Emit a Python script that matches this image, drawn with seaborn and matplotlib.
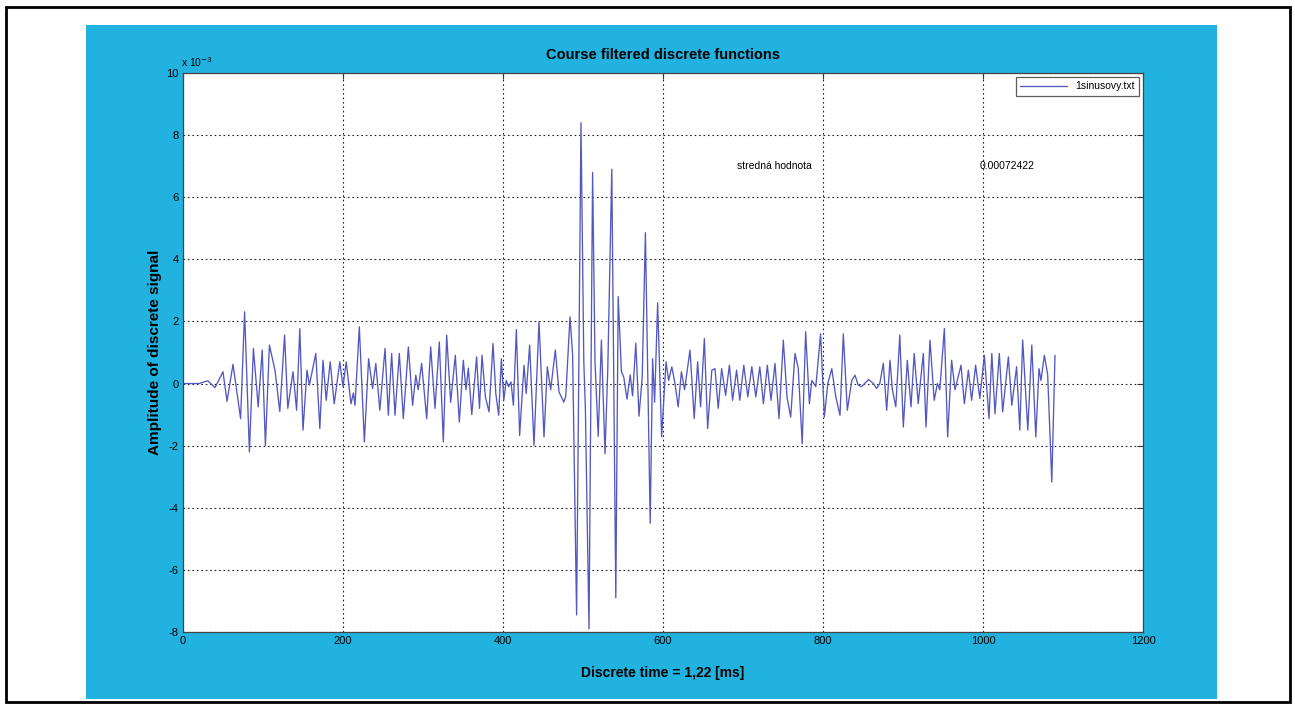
import numpy as np
import pandas as pd
import matplotlib
matplotlib.use("Agg")
import matplotlib.pyplot as plt
import seaborn as sns
from matplotlib.patches import Rectangle

# Sample index of each turning point and amplitude (units of 1e-3)
t_pts = [0, 20, 31, 40, 50, 55, 62.5, 67, 72, 77, 83, 88, 94, 99, 103, 108, 115, 121, 127, 131,
         137.5, 142, 146, 150, 155, 158, 166, 171, 175, 179, 184, 189, 196, 200, 204, 210, 213, 215,
         220.4, 226.7, 232, 237, 241, 246, 252.5, 256.7, 260.8, 265, 270.4, 275.4, 281.7, 287, 291,
         294, 298.3, 304.6, 309.6, 315, 320.4, 325.4, 329.6, 334.6, 340.4, 345.4, 350.4, 353.75,
         356.7, 361, 367, 370.6, 373.75, 378, 382.5, 387.5, 391, 394.6, 398, 401, 404, 407, 410,
         413, 416.7, 420.8, 426.25, 429, 433.3, 438.75, 445, 451.25, 455.4, 459.6, 465.4, 470,
         476, 478.5, 483.75, 487, 492, 497.5, 501, 503, 507.5, 512, 515, 519, 523, 527.5, 531,
         536, 541, 544, 548, 551, 555, 559, 562, 566, 570, 574, 578, 584, 587, 589.5, 593.3, 598.3,
         603.75, 607, 611, 615, 619, 623, 627, 633.75, 639, 643.3, 647, 651.7, 655.8, 661, 665,
         669, 673.3, 678.3, 683, 687, 692, 696, 701, 706, 711, 716, 721, 725.5, 730.4, 735, 740,
         745, 750.4, 755, 759.6, 765, 769, 774, 778.3, 783, 786, 791, 797, 801.7, 806, 811, 816,
         821.25, 825.4, 830.4, 836, 840, 844, 848, 857, 863, 867, 871, 875.4, 879.6, 883.75, 886.7,
         891, 896, 900.4, 905.4, 910, 914, 919, 925.4, 928.75, 933.75, 939, 943, 946, 951.7,
         955.8, 960.8, 965, 972.5, 976.7, 981.7, 985.8, 990.8, 996, 1001.7, 1007.5, 1011, 1015,
         1020.4, 1024.6, 1031.7, 1036, 1042, 1046, 1049.6, 1056, 1061, 1066, 1070, 1072.5, 1076.7,
         1080.8, 1086, 1090]
amp_pts = [0.0, 0.0, 0.09, -0.13, 0.38, -0.57, 0.62, -0.2, -1.13, 2.31, -2.2, 1.13, -0.75, 1.08, -2.0,
           1.24, 0.43, -0.9, 1.56, -0.8, 0.38, -0.86, 1.77, -1.5, 0.43, -0.05, 0.97, -1.45, 0.75, -0.54,
           0.7, -0.65, 0.7, -0.1, 0.7, -0.65, -0.3, -0.7, 1.83, -1.88, 0.8, -0.16, 0.65, -0.86, 1.13,
           -1.02, 0.97, -1.02, 0.97, -1.13, 1.18, -0.7, 0.27, -0.2, 0.65, -1.13, 1.18, -0.8, 1.34,
           -1.88, 1.56, -0.6, 0.91, -1.24, 0.75, -0.2, 0.5, -1.0, 0.86, -0.8, 0.91, -0.43, -0.91,
           1.29, -0.32, -1.02, 0.8, -0.54, 0.1, -0.1, 0.05, -0.7, 1.74, -1.67, 0.59, -0.32, 1.24,
           -1.99, 1.99, -1.72, 0.54, -0.2, 1.08, -0.27, -0.6, -0.4, 2.15, 0.94, -7.45, 8.4, 0.7, -0.83,
           -7.9, 6.8, 0.7, -1.7, 1.4, -2.26, 0.5, 6.9, -6.9, 2.8, 0.39, 0.2, -0.5, 0.28, -0.4, 1.3,
           -1.05, 0.2, 4.86, -4.5, 0.8, -0.6, 2.6, -1.72, 0.7, 0.1, 0.54, 0.0, -0.75, 0.38, -0.2, 1.08,
           -1.13, 0.7, -0.75, 1.45, -1.45, 0.43, 0.48, -0.8, 0.48, -0.38, 0.59, -0.54, 0.43, -0.54,
           0.59, -0.43, 0.54, -0.43, 0.54, -0.65, 0.59, -0.54, 0.65, -1.13, 1.4, -0.43, -1.08, 0.97,
           0.5, -1.94, 1.67, -0.65, 0.1, -0.1, 1.6, -1.08, 0.0, 0.48, -0.43, -1.02, 1.6, -0.86, 0.1,
           0.27, -0.05, -0.1, 0.13, 0.0, -0.16, 0.0, 0.65, -0.86, 0.75, -0.2, -0.75, 1.56, -1.4, 0.75,
           -0.75, 0.97, -0.65, 0.97, -1.4, 1.4, -0.54, 0.0, -0.2, 1.77, -1.72, 0.75, -0.2, 0.59, -0.65,
           0.43, -0.54, 0.59, -0.48, 0.91, -1.13, 0.97, -0.97, 0.97, -0.91, 0.86, -0.7, 0.54, -1.5,
           1.4, -1.5, 1.24, -1.72, 0.48, 0.1, 0.91, 0.3, -3.17, 0.91]

x_ticks = [0, 200, 400, 600, 800, 1000, 1200]
y_ticks = [-8, -6, -4, -2, 0, 2, 4, 6, 8, 10]
series_name = "1sinusovy.txt"
mean_label = "stredná hodnota"
mean_value = "0.00072422"

df = pd.DataFrame({"t": t_pts, "amp": np.array(amp_pts) * 1e-3})

sns.set_style("white")
plt.rcParams["font.family"] = ["Liberation Sans", "DejaVu Sans"]
plt.rcParams["text.color"] = "black"
plt.rcParams["axes.labelcolor"] = "black"
plt.rcParams["xtick.color"] = "black"
plt.rcParams["ytick.color"] = "black"

fig = plt.figure(figsize=(12.95, 7.09), dpi=100)
W, H = 1295, 709
cyan = "#22B2E0"
fig.patches.append(Rectangle((86 / W, 1 - 699 / H), (1217 - 86) / W, (699 - 25) / H,
                             transform=fig.transFigure, facecolor=cyan, edgecolor="none", zorder=-10))
fig.patches.append(Rectangle((6 / W, 1 - 702 / H), (1290 - 6) / W, (702 - 7) / H,
                             transform=fig.transFigure, facecolor="none", edgecolor="black",
                             linewidth=2, zorder=10))

ax = fig.add_axes([183 / W, 1 - 632 / H, 960 / W, 559 / H])
ax.set_facecolor("white")
sns.lineplot(data=df, x="t", y="amp", ax=ax, sort=False, estimator=None,
             color="#5258C0", linewidth=0.95, label=series_name)

ax.set_xlim(0, 1200)
ax.set_ylim(-8e-3, 10e-3)
ax.set_xticks(x_ticks)
ax.set_xticklabels([str(v) for v in x_ticks], fontsize=8)
ax.set_yticks([v * 1e-3 for v in y_ticks])
ax.set_yticklabels([str(v) for v in y_ticks], fontsize=8)
ax.tick_params(direction="in", length=4, width=0.8, top=True, right=True, color="#333333", pad=3)
ax.grid(True, linestyle=(0, (1.5, 2.5)), color="#222222", linewidth=0.8)
for s in ax.spines.values():
    s.set_color("#444444")
    s.set_linewidth(0.9)

ax.text(-0.002, 1.008, "x 10$^{-3}$", transform=ax.transAxes, fontsize=7.5, ha="left", va="bottom")

ax.set_title("Course filtered discrete functions", fontsize=10.5, fontweight="bold", pad=10)
ax.set_xlabel("Discrete time = 1,22 [ms]", fontsize=10, fontweight="bold", labelpad=14)
ax.set_ylabel("Amplitude of discrete signal", fontsize=11, fontweight="bold", labelpad=3)

ax.text(692, 7.0e-3, mean_label, fontsize=7.5, va="center", ha="left")
ax.text(996, 7.0e-3, mean_value, fontsize=7.5, va="center", ha="left")

leg = ax.legend(loc="upper right", fontsize=7.5, frameon=True, fancybox=False,
                borderpad=0.4, handlelength=4.5, borderaxespad=0.4)
leg.get_frame().set_edgecolor("#333333")
leg.get_frame().set_linewidth(0.9)

fig.savefig("out.png", dpi=100, facecolor="white")
